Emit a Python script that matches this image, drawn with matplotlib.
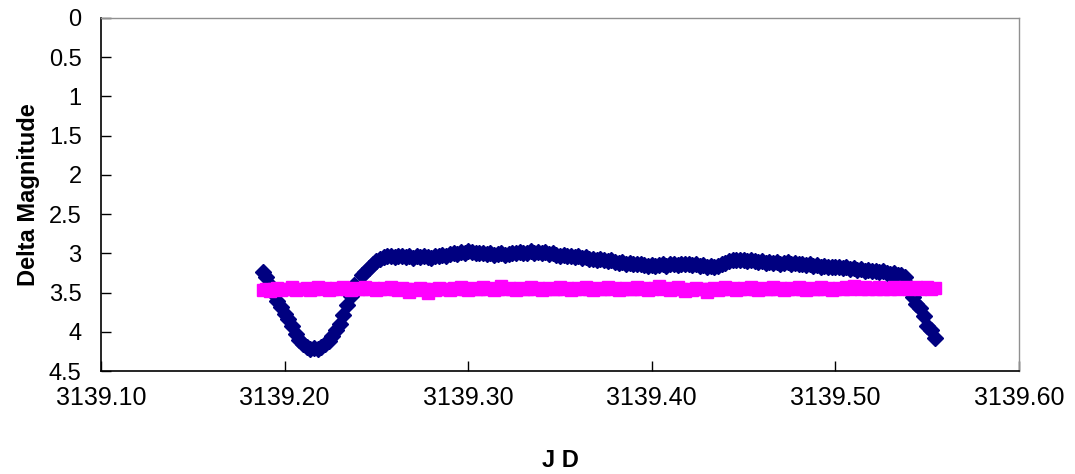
import numpy as np
import matplotlib
matplotlib.use("Agg")
import matplotlib.pyplot as plt
from matplotlib.ticker import FormatStrFormatter, MultipleLocator

plt.rcParams['font.family'] = ['Liberation Sans', 'DejaVu Sans']

# Julian Date sampling grid (days, 3139.188 ... 3139.554)
jd = np.round(3139.188 + 0.002 * np.arange(184), 4)

# Variable star (navy diamonds)
var_mag = [
    3.24, 3.30, 3.40, 3.52, 3.61, 3.68, 3.77, 3.84, 3.92, 4.03,
    4.10, 4.15, 4.19, 4.22, 4.21, 4.22, 4.19, 4.16, 4.12, 4.06,
    3.98, 3.90, 3.78, 3.66, 3.55, 3.40, np.nan, 3.28, 3.24, 3.19,
    3.14, 3.10, 3.07, 3.05, 3.04, 3.03, 3.05, 3.03, 3.04, 3.05,
    3.04, 3.06, 3.04, 3.05, 3.03, 3.05, 3.06, 3.03, 3.04, 3.02,
    3.03, 3.01, 3.00, 3.01, 2.98, 2.99, 2.97, 2.98, 2.99, 3.00,
    2.99, 3.01, 3.00, 3.02, 3.01, 3.00, 3.02, 3.01, 2.99, 3.00,
    2.98, 3.00, 2.99, 2.97, 2.99, 2.98, 3.00, 2.98, 3.01, 3.00,
    3.02, 3.03, 3.02, 3.04, 3.03, 3.05, 3.04, 3.06, 3.05, 3.07,
    3.07, 3.08, 3.07, 3.09, 3.10, 3.09, 3.11, 3.12, 3.11, 3.13,
    3.12, 3.13, 3.14, 3.13, 3.15, 3.16, 3.15, 3.16, 3.15, 3.14,
    3.16, 3.14, 3.13, 3.15, 3.13, 3.14, 3.13, 3.15, 3.14, 3.16,
    3.15, 3.17, 3.16, 3.17, 3.16, 3.14, 3.12, 3.10, 3.09, 3.08,
    3.09, 3.08, 3.10, 3.09, 3.10, 3.11, 3.10, 3.12, 3.11, 3.12,
    3.11, 3.13, 3.12, 3.11, 3.13, 3.12, 3.14, 3.13, 3.15, 3.14,
    3.16, 3.15, 3.17, 3.16, 3.18, 3.17, 3.18, 3.17, 3.19, 3.18,
    3.20, 3.19, 3.21, 3.20, 3.22, 3.21, 3.23, 3.22, 3.24, 3.23,
    3.25, 3.26, 3.25, 3.27, 3.28, 3.30, 3.42, 3.56, 3.64, 3.70,
    3.80, 3.93, 3.98, 4.08,
]

# Check star (magenta squares)
chk_mag = [
    3.47, 3.45, 3.48, 3.46, 3.44, 3.47, 3.45, 3.46, 3.43, 3.47,
    3.45, 3.46, 3.44, 3.47, 3.45, 3.43, 3.46, 3.44, 3.47, 3.45,
    3.44, 3.46, 3.43, 3.45, 3.47, 3.44, 3.46, 3.45, 3.43, 3.46,
    3.44, 3.47, 3.45, 3.44, 3.46, 3.43, 3.45, 3.47, 3.44, 3.46,
    3.49, 3.45, 3.47, 3.44, 3.46, 3.50, 3.45, 3.47, 3.44, 3.46,
    3.45, 3.47, 3.44, 3.46, 3.43, 3.45, 3.47, 3.44, 3.46, 3.45,
    3.43, 3.46, 3.44, 3.47, 3.45, 3.42, 3.46, 3.44, 3.45, 3.47,
    3.44, 3.46, 3.45, 3.43, 3.46, 3.44, 3.47, 3.45, 3.44, 3.46,
    3.45, 3.43, 3.46, 3.44, 3.47, 3.45, 3.44, 3.46, 3.43, 3.45,
    3.47, 3.44, 3.46, 3.45, 3.43, 3.46, 3.44, 3.47, 3.45, 3.44,
    3.46, 3.45, 3.43, 3.46, 3.44, 3.47, 3.45, 3.44, 3.42, 3.46,
    3.44, 3.47, 3.45, 3.43, 3.46, 3.48, 3.45, 3.47, 3.44, 3.46,
    3.45, 3.49, 3.46, 3.44, 3.47, 3.45, 3.43, 3.46, 3.44, 3.47,
    3.45, 3.44, 3.46, 3.43, 3.45, 3.47, 3.44, 3.46, 3.45, 3.43,
    3.46, 3.44, 3.47, 3.45, 3.44, 3.46, 3.43, 3.45, 3.47, 3.44,
    3.46, 3.45, 3.43, 3.46, 3.44, 3.47, 3.45, 3.44, 3.46, 3.43,
    3.45, 3.42, 3.44, 3.46, 3.43, 3.45, 3.44, 3.46, 3.43, 3.45,
    3.44, 3.46, 3.43, 3.45, 3.44, 3.43, 3.45, 3.44, 3.43, 3.45,
    3.44, 3.43, 3.45, 3.44,
]

fig = plt.figure(figsize=(10.75, 4.74), dpi=100)
ax = fig.add_axes([101 / 1075, 1 - 371 / 474, (1019 - 101) / 1075, (371 - 18) / 474])

ax.plot(jd, var_mag, linestyle='none', marker='D', markersize=8,
        color='#000080', markeredgecolor='#000080', zorder=3)
ax.plot(jd, chk_mag, linestyle='none', marker='s', markersize=8.5,
        color='#FF00FF', markeredgecolor='#FF00FF', zorder=4)

ax.set_xlim(3139.10, 3139.60)
ax.set_ylim(4.5, 0)
ax.xaxis.set_major_locator(MultipleLocator(0.1))
ax.xaxis.set_major_formatter(FormatStrFormatter('%.2f'))
ax.yaxis.set_major_locator(MultipleLocator(0.5))
ax.yaxis.set_major_formatter(FormatStrFormatter('%g'))

for s in ['left', 'bottom']:
    ax.spines[s].set_color('black')
    ax.spines[s].set_linewidth(1.2)
for s in ['top', 'right']:
    ax.spines[s].set_color('#909090')
    ax.spines[s].set_linewidth(1.0)

ax.tick_params(axis='both', direction='in', length=7, width=1.0, color='black')
ax.tick_params(axis='y', labelsize=17, pad=14)
ax.tick_params(axis='x', labelsize=18, pad=11)

ax.set_xlabel('J D', fontsize=17, fontweight='bold', labelpad=28)
ax.set_ylabel('Delta Magnitude', fontsize=17, fontweight='bold', labelpad=6)

fig.savefig('out.png', dpi=100)
